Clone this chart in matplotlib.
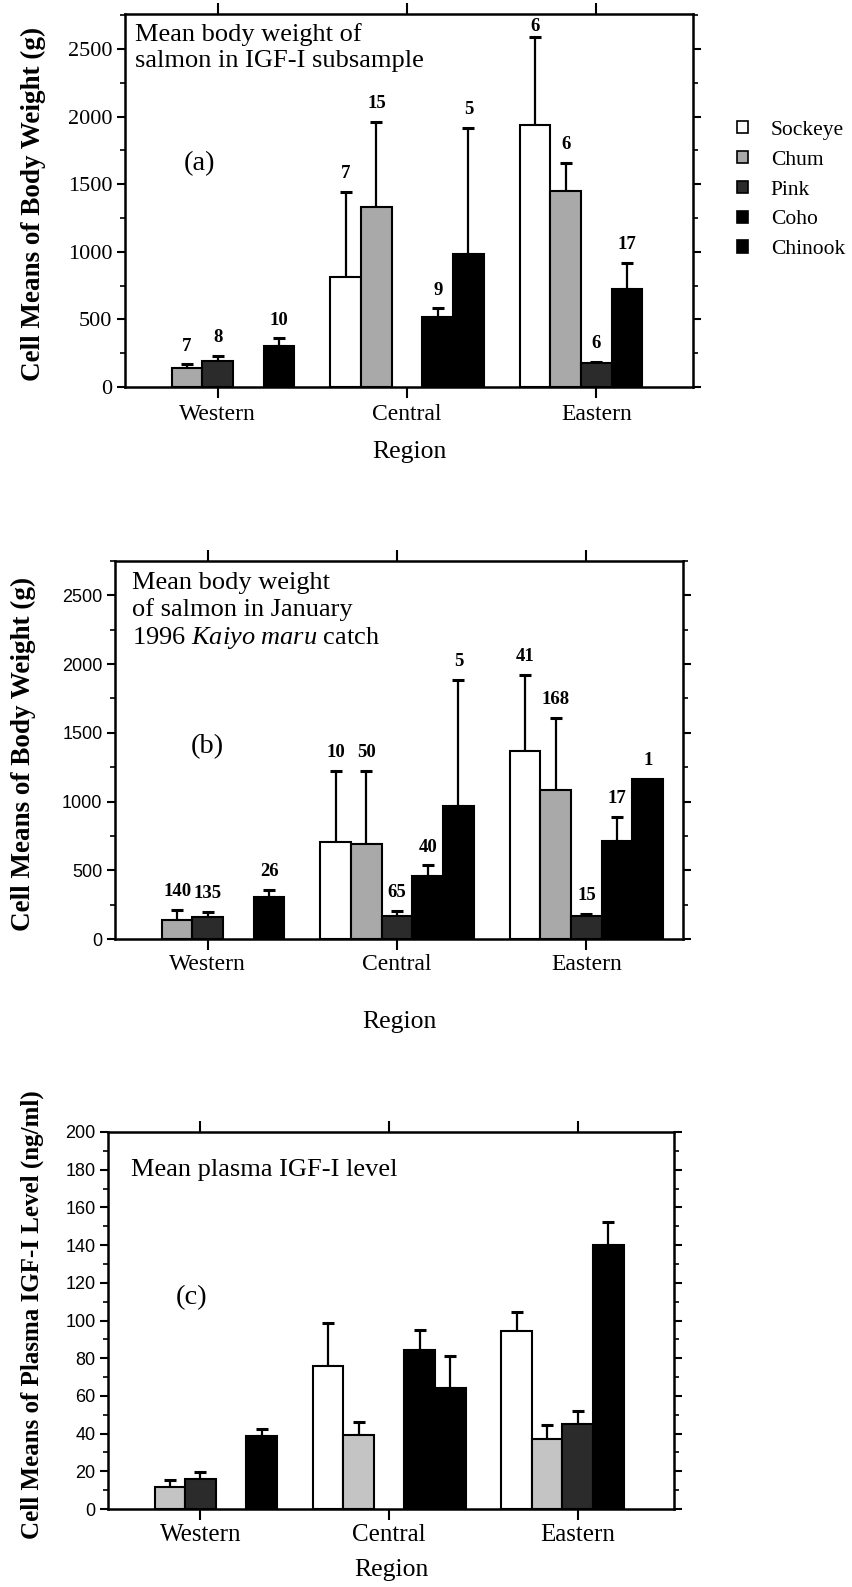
import numpy as np
import matplotlib
matplotlib.use("Agg")
import matplotlib.pyplot as plt
from matplotlib.patches import Patch
from matplotlib.ticker import MultipleLocator, FixedLocator

nan = np.nan
regions = ["Western", "Central", "Eastern"]
species = ["Sockeye", "Chum", "Pink", "Coho", "Chinook"]

# Panel (a): mean body weight, IGF-I subsample
a_mean = {
    "Sockeye": [nan, 815, 1940],
    "Chum":    [140, 1335, 1450],
    "Pink":    [195, nan, 178],
    "Coho":    [nan, 515, 725],
    "Chinook": [305, 985, nan],
}
a_err = {
    "Sockeye": [nan, 628, 652],
    "Chum":    [28, 625, 208],
    "Pink":    [38, nan, 10],
    "Coho":    [nan, 67, 191],
    "Chinook": [54, 931, nan],
}
a_n = {
    "Sockeye": ["", "7", "6"],
    "Chum":    ["7", "15", "6"],
    "Pink":    ["8", "", "6"],
    "Coho":    ["", "9", "17"],
    "Chinook": ["10", "5", ""],
}

# Panel (b): mean body weight, January 1996 Kaiyo maru catch
b_mean = {
    "Sockeye": [nan, 705, 1365],
    "Chum":    [138, 693, 1085],
    "Pink":    [157, 169, 167],
    "Coho":    [nan, 457, 710],
    "Chinook": [307, 964, 1164],
}
b_err = {
    "Sockeye": [nan, 520, 558],
    "Chum":    [72, 532, 526],
    "Pink":    [41, 36, 14],
    "Coho":    [nan, 79, 181],
    "Chinook": [53, 920, nan],
}
b_n = {
    "Sockeye": ["", "10", "41"],
    "Chum":    ["140", "50", "168"],
    "Pink":    ["135", "65", "15"],
    "Coho":    ["", "40", "17"],
    "Chinook": ["26", "5", "1"],
}

# Panel (c): mean plasma IGF-I level
c_mean = {
    "Sockeye": [nan, 75.7, 94.4],
    "Chum":    [11.5, 39.5, 37.4],
    "Pink":    [16.1, nan, 45.0],
    "Coho":    [nan, 84.6, 139.8],
    "Chinook": [38.9, 64.4, nan],
}
c_err = {
    "Sockeye": [nan, 23.1, 10.1],
    "Chum":    [4.1, 6.7, 7.1],
    "Pink":    [3.4, nan, 7.0],
    "Coho":    [nan, 10.4, 12.5],
    "Chinook": [3.6, 16.6, nan],
}

face = {"Sockeye": "white", "Chum": "#a9a9a9", "Pink": "#2b2b2b",
        "Coho": "black", "Chinook": "black"}
face_c = dict(face, Chum="#c4c4c4")

SERIF = ["Liberation Serif", "DejaVu Serif"]
SANS = ["Liberation Sans", "DejaVu Sans"]
plt.rcParams["font.family"] = SERIF
plt.rcParams["mathtext.fontset"] = "custom"
plt.rcParams["mathtext.rm"] = "Liberation Serif"
plt.rcParams["mathtext.it"] = "Liberation Serif:italic"

W, H = 853, 1587
fig = plt.figure(figsize=(W / 100, H / 100), dpi=100)


def ax_at(left, right, top, bottom):
    return fig.add_axes([left / W, 1 - bottom / H, (right - left) / W, (bottom - top) / H])


def draw(ax, means, errs, ns, fc, ymax, major, minor, tickfont, tickfs, xpad):
    x = np.arange(len(regions))
    bw = 0.162
    for i, sp in enumerate(species):
        m = np.array(means[sp], dtype=float)
        e = np.array(errs[sp], dtype=float)
        xs = x + (i - 2) * bw
        ok = ~np.isnan(m)
        ax.bar(xs[ok], m[ok], width=bw, color=fc[sp], edgecolor="black",
               linewidth=1.5, zorder=2)
        eok = ok & ~np.isnan(e)
        if eok.any():
            ax.errorbar(xs[eok], m[eok], yerr=[np.zeros(eok.sum()), e[eok]],
                        fmt="none", ecolor="black", elinewidth=1.6,
                        capsize=4, capthick=2.2, zorder=1)
        if ns is not None:
            for j in range(len(regions)):
                if not ok[j] or ns[sp][j] == "":
                    continue
                top = m[j] + (0 if np.isnan(e[j]) else e[j])
                off = 7
                if top > ymax * 0.93:
                    off = 1
                ax.annotate(ns[sp][j], (xs[j], top), xytext=(0, off),
                            textcoords="offset points", ha="center", va="bottom",
                            fontsize=13.5, fontweight="bold")
    ax.set_xlim(-0.49, 2.51)
    ax.set_ylim(0, ymax)
    ax.yaxis.set_major_locator(MultipleLocator(major))
    ax.yaxis.set_minor_locator(MultipleLocator(minor))
    ax.xaxis.set_major_locator(FixedLocator(x))
    ax.set_xticklabels(regions, fontsize=17)
    ax.tick_params(axis="x", which="both", top=True, bottom=True, direction="out",
                   length=8, width=1.5, pad=xpad)
    ax.tick_params(axis="y", which="major", left=True, right=True, direction="out",
                   length=6, width=1.5, pad=3)
    ax.tick_params(axis="y", which="minor", left=True, right=True, direction="out",
                   length=3.5, width=1.2)
    for lab in ax.get_yticklabels():
        lab.set_fontfamily(tickfont)
        lab.set_fontsize(tickfs)
    for s in ax.spines.values():
        s.set_linewidth(1.8)


# ---- panel (a)
ax1 = ax_at(125, 693, 14, 387)
draw(ax1, a_mean, a_err, a_n, face, 2760, 500, 250, SERIF, 16, 4)
ax1.set_ylabel("Cell Means of Body Weight (g)", fontsize=19.5, fontweight="bold")
ax1.yaxis.set_label_coords(-0.139, 0.49)
ax1.set_xlabel("Region", fontsize=18.5, labelpad=12)
ax1.text(0.018, 0.975, "Mean body weight of\nsalmon in IGF-I subsample",
         transform=ax1.transAxes, ha="left", va="top", fontsize=19, linespacing=1.2)
ax1.text(0.132, 0.60, "(a)", transform=ax1.transAxes, ha="center", va="center",
         fontsize=20.5)

handles = [Patch(facecolor=face[s], edgecolor="black", linewidth=1.2) for s in species]
fig.legend(handles, species, loc="upper left", bbox_to_anchor=(737 / W, 1 - 121 / H),
           frameon=False, fontsize=15.5, handlelength=0.5, handleheight=0.5,
           handletextpad=1.07, labelspacing=0.5, borderpad=0, borderaxespad=0)

# ---- panel (b)
ax2 = ax_at(115, 683, 561, 939)
draw(ax2, b_mean, b_err, b_n, face, 2750, 500, 250, SANS, 13, 3)
ax2.set_ylabel("Cell Means of Body Weight (g)", fontsize=19.5, fontweight="bold")
ax2.yaxis.set_label_coords(-0.139, 0.49)
ax2.set_xlabel("Region", fontsize=18.5, labelpad=26)
ax2.text(0.03, 0.97, "Mean body weight\nof salmon in January\n1996 $\\it{Kaiyo\\ maru}$ catch",
         transform=ax2.transAxes, ha="left", va="top", fontsize=19, linespacing=1.2)
ax2.text(0.162, 0.508, "(b)", transform=ax2.transAxes, ha="center", va="center",
         fontsize=20.5)

# ---- panel (c)
ax3 = ax_at(108, 674, 1132, 1509)
draw(ax3, c_mean, c_err, None, face_c, 200, 20, 10, SANS, 13, 3)
ax3.set_ylabel("Cell Means of Plasma IGF-I Level (ng/ml)", fontsize=18,
               fontweight="bold")
ax3.yaxis.set_label_coords(-0.113, 0.515)
ax3.set_xlabel("Region", fontsize=18.5, labelpad=9)
ax3.set_xticklabels(regions, fontsize=18)
ax3.text(0.04, 0.90, "Mean plasma IGF-I level", transform=ax3.transAxes,
         ha="left", va="center", fontsize=19)
ax3.text(0.148, 0.562, "(c)", transform=ax3.transAxes, ha="center", va="center",
         fontsize=20.5)

fig.savefig("out.png", dpi=100)
